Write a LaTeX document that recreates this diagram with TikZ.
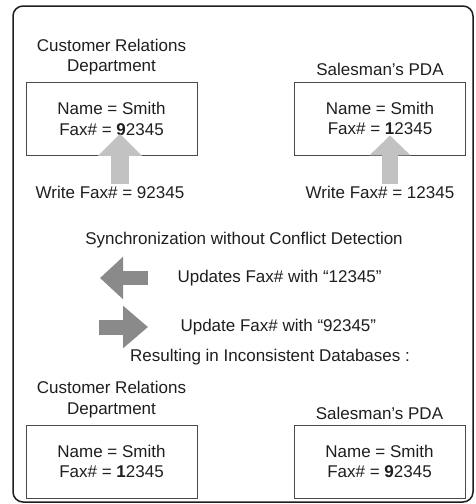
\documentclass[tikz,border=0pt]{standalone}
\usepackage{fontspec}
\setmainfont{Liberation Sans}
\usepackage{xcolor}
\usepackage{tikz}
\usetikzlibrary{arrows.meta,positioning}
\definecolor{ink}{HTML}{1E1E1E}
\definecolor{rim}{HTML}{4A4A4A}
\definecolor{pale}{HTML}{C2C2C2}
\definecolor{mid}{HTML}{8A8A8A}

\begin{document}
\begin{tikzpicture}[x=1pt,y=-1pt,>=Triangle,
 db/.style={draw=rim,line width=0.9pt,minimum width=171pt,minimum height=73pt,align=center},
 lbl/.style={align=center},
 up/.style={draw=pale,-{Triangle[width=43pt,length=22pt]}},
 sync/.style={draw=mid,-{Triangle[width=41pt,length=23pt]}},
 every node/.style={text=ink,font=\fontsize{17}{20.5}\selectfont}]
 \useasboundingbox (0,0) rectangle (475,504);
 \draw[ink,line width=1.5pt,rounded corners=10pt] (13,6) rectangle (473,502);
 % before synchronization
 \node[db] (crmA) at (111.5,119) {Name = Smith\\Fax\# = \textbf{9}2345};
 \node[db] (pdaA) at (380,118.5) {Name = Smith\\Fax\# = \textbf{1}2345};
 \node[lbl,above=3pt of crmA] (crmAl) {Customer Relations\\Department};
 \node[lbl,above=2pt of pdaA] (pdaAl) {Salesman’s PDA};
 \node (w1) at (110,192) {Write Fax\# = 92345};
 \node (w2) at (380,192) {Write Fax\# = 12345};
 \draw[up,line width=18pt] ([xshift=10pt,yshift=-2pt]w1.north) -- ([xshift=8.5pt,yshift=22pt]crmA.south);
 \draw[up,line width=16pt,-{Triangle[width=40pt,length=20pt]}] ([xshift=10pt,yshift=-2pt]w2.north) -- ([xshift=10pt,yshift=20pt]pdaA.south);
 % synchronization
 \node (syn) at (244,240) {Synchronization without Conflict Detection};
 \node[anchor=west] (upd1) at (174,278) {Updates Fax\# with “12345”};
 \node[anchor=west] (upd2) at (177,327) {Update Fax\# with “92345”};
 \draw[sync,line width=13.5pt] ([xshift=-26pt]upd1.west) -- ([xshift=-74pt]upd1.west);
 \draw[sync,line width=15pt,-{Triangle[width=41pt,length=25pt]}] ([xshift=-78pt]upd2.west) -- ([xshift=-29pt]upd2.west);
 \node (res) at (270,357) {Resulting in Inconsistent Databases :};
 % after synchronization
 \node[db] (crmB) at (111.5,461.5) {Name = Smith\\Fax\# = \textbf{1}2345};
 \node[db] (pdaB) at (379.5,461.5) {Name = Smith\\Fax\# = \textbf{9}2345};
 \node[lbl,above=3pt of crmB] (crmBl) {Customer Relations\\Department};
 \node[lbl,above=1.5pt of pdaB] (pdaBl) {Salesman’s PDA};
\end{tikzpicture}
\end{document}
